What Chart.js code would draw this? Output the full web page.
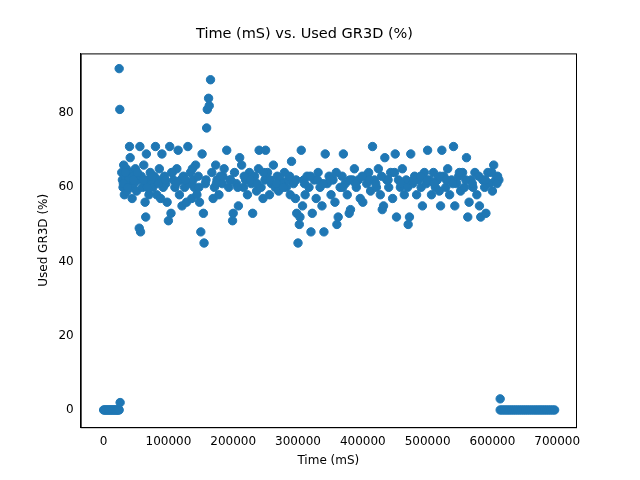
<!DOCTYPE html>
<html>
<head>
<meta charset="utf-8">
<script src="https://cdn.jsdelivr.net/npm/chart.js@4/dist/chart.umd.min.js"></script>
<style>
  html, body { margin: 0; padding: 0; background: #fff; }
  #wrap { width: 640px; height: 480px; }
</style>
</head>
<body>
<div id="wrap"><canvas id="chart"></canvas></div>
<script>
// idle at start
const startTimes = [0, 1500, 3000, 4500, 6000, 7500, 9000, 10500, 12000, 13500, 15000, 16500, 18000, 19500, 21000, 22500, 24000, 24000, 25000, 25500];
const startUse = [0, 0, 0, 0, 0, 0, 0, 0, 0, 0, 0, 0, 0, 0, 0, 0, 0, 92, 81, 2];

// busy run
const runTimes = [
  28000, 29000, 30000, 31000, 32000, 33000, 34000, 35000, 36000, 38000,
  40000, 41000, 42000, 43000, 44000, 45000, 47000, 49000, 51000, 53000,
  55000, 56000, 57000, 58000, 60000, 62000, 64000, 65000, 66000, 68000,
  70000, 72000, 74000, 76000, 78000, 80000, 82000, 84000, 86000, 88000,
  90000, 92000, 94000, 96000, 98000, 100000, 102000, 104000, 106000, 108000,
  110000, 113000, 115000, 117000, 119000, 121000, 123000, 125000, 128000, 130000,
  132000, 134000, 136000, 138000, 140000, 142000, 144000, 146000, 148000, 150000,
  152000, 154000, 155000, 157000, 159000, 160000, 162000, 163000, 165000, 167000,
  169000, 171000, 173000, 175000, 178000, 180000, 183000, 186000, 190000, 193000,
  196000, 199000, 200000, 202000, 205000, 208000, 210000, 213000, 216000, 219000,
  222000, 225000, 228000, 230000, 233000, 236000, 239000, 240000, 243000, 246000,
  249000, 250000, 253000, 256000, 259000, 262000, 265000, 268000, 270000, 273000,
  276000, 279000, 282000, 285000, 288000, 290000, 293000, 296000, 298000, 300000,
  302000, 303000, 305000, 307000, 309000, 311000, 314000, 317000, 320000, 322000,
  325000, 328000, 331000, 334000, 337000, 340000, 342000, 345000, 348000, 351000,
  354000, 357000, 360000, 362000, 365000, 368000, 370000, 373000, 376000, 379000,
  381000, 384000, 387000, 390000, 393000, 396000, 400000, 403000, 406000, 409000,
  412000, 415000, 418000, 421000, 424000, 427000, 430000, 432000, 434000, 437000,
  440000, 443000, 446000, 450000, 452000, 455000, 458000, 461000, 464000, 467000,
  470000, 472000, 474000, 477000, 480000, 483000, 486000, 490000, 492000, 495000,
  498000, 500000, 503000, 506000, 509000, 512000, 515000, 518000, 520000, 522000,
  525000, 528000, 531000, 534000, 537000, 540000, 542000, 545000, 548000, 551000,
  554000, 557000, 560000, 562000, 564000, 567000, 570000, 573000, 576000, 580000,
  582000, 585000, 588000, 590000, 593000, 596000, 600000, 602000, 605000, 608000,
  610000
];
const runUse = [
  64, 62, 60, 66, 58, 63, 61, 65, 59, 62,
  71, 68, 64, 60, 57, 63, 61, 65, 59, 62,
  49, 71, 48, 63, 60, 66, 56, 52, 69, 62,
  58, 64, 61, 60, 63, 71, 58, 62, 65, 57,
  69, 60, 63, 61, 56, 51, 71, 53, 64, 62,
  60, 65, 70, 58, 62, 55, 63, 60, 56, 71,
  61, 64, 57, 62, 60, 66, 58, 63, 56, 48,
  69, 53, 45, 61, 76, 81, 84, 82, 89, 64,
  57, 60, 66, 62, 58, 63, 61, 65, 70, 60,
  62, 51, 53, 64, 61, 55, 68, 66, 60, 62,
  58, 64, 61, 53, 63, 59, 65, 70, 60, 57,
  62, 70, 64, 58, 61, 66, 60, 63, 59, 62,
  61, 64, 60, 62, 58, 67, 61, 57, 53, 45,
  50, 52, 70, 55, 62, 58, 63, 60, 48, 53,
  62, 57, 64, 60, 55, 48, 69, 61, 63, 58,
  62, 56, 50, 52, 60, 63, 69, 61, 58, 53,
  54, 62, 65, 60, 62, 57, 56, 63, 61, 64,
  59, 71, 62, 60, 65, 58, 54, 55, 68, 62,
  60, 64, 57, 69, 52, 62, 60, 65, 58, 62,
  50, 52, 69, 61, 63, 58, 62, 60, 55, 64,
  61, 70, 62, 58, 64, 60, 62, 59, 55, 70,
  63, 60, 65, 58, 62, 71, 55, 61, 63, 59,
  64, 60, 68, 52, 56, 62, 60, 64, 58, 55,
  52, 62, 60, 53, 64, 61, 59, 66, 62, 63,
  62
];

// extra samples inside the dense band
const bandTimes = [
  30500, 33500, 37000, 46000, 52000, 61000, 67000, 75000, 85000, 95000,
  105000, 112000, 126000, 137000, 147000, 158000, 174000, 184000, 195000, 207000,
  217000, 227000, 237000, 247000, 257000, 267000, 277000, 287000, 297000, 310000,
  319000, 330000, 339000, 350000, 359000, 369000, 380000, 389000, 399000, 410000,
  420000, 429000, 439000, 449000, 459000, 469000, 479000, 489000, 499000, 510000,
  519000, 529000, 539000, 549000, 559000, 569000, 579000, 589000, 599000, 607000
];
const bandUse = [
  61, 64, 60, 62, 64, 62, 60, 63, 61, 62,
  64, 61, 62, 65, 60, 62, 61, 63, 62, 60,
  63, 62, 61, 64, 62, 61, 60, 63, 62, 61,
  63, 62, 61, 62, 64, 60, 62, 61, 63, 62,
  61, 63, 62, 64, 61, 60, 62, 63, 62, 61,
  63, 62, 61, 64, 62, 61, 63, 62, 64, 61
];

// idle at end
const endTimes = [612000, 612000, 615000, 618000, 621000, 624000, 627000, 630000, 633000, 636000, 639000, 642000, 645000, 648000, 651000, 654000, 657000, 660000, 663000, 666000, 669000, 672000, 675000, 678000, 681000, 684000, 687000, 690000, 693000, 696000];
const endUse = [3, 0, 0, 0, 0, 0, 0, 0, 0, 0, 0, 0, 0, 0, 0, 0, 0, 0, 0, 0, 0, 0, 0, 0, 0, 0, 0, 0, 0, 0];

const xTicks = [0, 100000, 200000, 300000, 400000, 500000, 600000, 700000];
const yTicks = [0, 20, 40, 60, 80];

const allTimes = startTimes.concat(runTimes, bandTimes, endTimes);
const allUse = startUse.concat(runUse, bandUse, endUse);
const points = allTimes.map((t, i) => ({ x: t, y: allUse[i] }));

// caja completa alrededor del area
const frame = {
  id: 'frame',
  afterDraw(chart) {
    const { ctx, chartArea: a } = chart;
    ctx.save();
    ctx.strokeStyle = '#000';
    ctx.lineWidth = 1;
    ctx.strokeRect(a.left + 0.5, a.top + 0.5, a.right - a.left, a.bottom - a.top);
    ctx.restore();
  }
};

const font = { family: 'DejaVu Sans', size: 12 };

new Chart(document.getElementById('chart'), {
  type: 'scatter',
  data: {
    datasets: [{
      data: points,
      backgroundColor: '#1f77b4',
      borderColor: '#1f77b4',
      pointRadius: 4.2,
      pointHoverRadius: 4.2
    }]
  },
  options: {
    responsive: true,
    maintainAspectRatio: false,
    animation: false,
    layout: { padding: { left: 33, right: 64, top: 26, bottom: 8 } },
    plugins: {
      legend: { display: false },
      tooltip: { enabled: false },
      title: { display: true, text: 'Time (mS) vs. Used GR3D (%)', color: '#000', font: { family: 'DejaVu Sans', size: 14.5, weight: 'normal' }, padding: { top: 0, bottom: 10 } }
    },
    scales: {
      x: {
        type: 'linear',
        min: -35400,
        max: 729000,
        afterBuildTicks: (s) => { s.ticks = xTicks.map(v => ({ value: v })); },
        grid: { display: false, drawTicks: true, tickLength: 4 },
        border: { color: '#000' },
        ticks: { color: '#000', font, maxRotation: 0, callback: (v) => String(v) },
        title: { display: true, text: 'Time (mS)', color: '#000', font, padding: { top: 2 } }
      },
      y: {
        min: -4.64,
        max: 96.1,
        afterBuildTicks: (s) => { s.ticks = yTicks.map(v => ({ value: v })); },
        grid: { display: false, drawTicks: true, tickLength: 4 },
        border: { color: '#000' },
        ticks: { color: '#000', font, callback: (v) => String(v) },
        title: { display: true, text: 'Used GR3D (%)', color: '#000', font, padding: { bottom: 4 } }
      }
    }
  },
  plugins: [frame]
});
</script>
</body>
</html>
